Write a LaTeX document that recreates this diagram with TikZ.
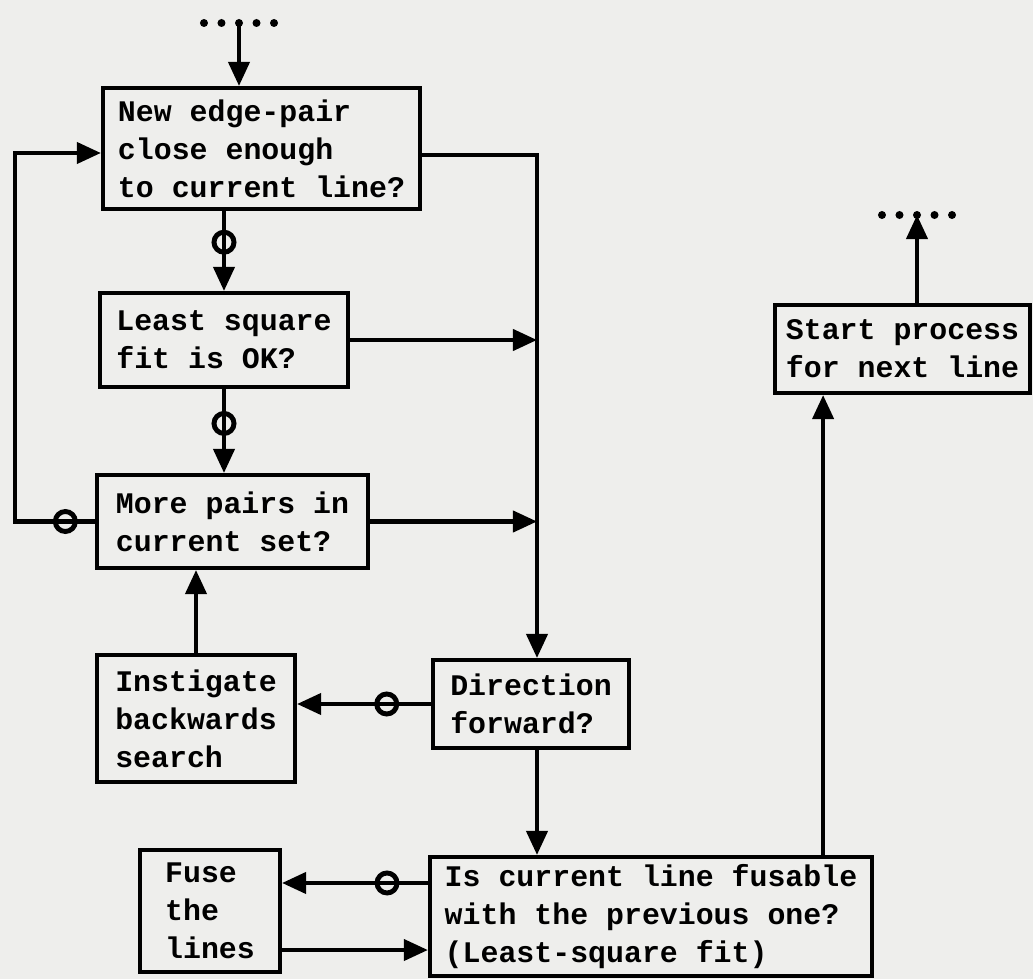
\documentclass[tikz,border=0pt]{standalone}
\usepackage{fontspec}
\setmonofont{Liberation Mono}
\usetikzlibrary{arrows.meta,positioning}
\definecolor{paper}{RGB}{238,238,236}
\begin{document}
\begin{tikzpicture}[
    x=0.01cm, y=-0.01cm,
    line width=1.15pt,
    box/.style={draw, align=left, inner sep=0pt, font=\ttfamily\bfseries\fontsize{8.5}{10.8}\selectfont},
    arrow/.style={-{Triangle[length=2.4mm,width=2.1mm]}},
    ring/.style={draw, circle, inner sep=0pt, minimum size=2mm, line width=1.4pt},
    dot/.style={fill, circle, inner sep=0pt, minimum size=0.8mm}
]
    \fill[paper] (0,0) rectangle (1033,979);
    \node[box, minimum width=3.17cm, minimum height=1.21cm] (edgepair) at (261.5,148.5) {New edge-pair\\close enough\\to current line?};
    \node[box, minimum width=2.48cm, minimum height=0.94cm] (lsqfit) at (224,340) {Least square\\fit is OK?};
    \node[box, minimum width=2.71cm, minimum height=0.93cm] (morepairs) at (232.5,521.5) {More pairs in\\current set?};
    \node[box, minimum width=1.98cm, minimum height=1.27cm] (backward) at (196,718.5) {Instigate\\backwards\\search};
    \node[box, minimum width=1.96cm, minimum height=0.88cm] (direction) at (531,704) {Direction\\forward?};
    \node[box, minimum width=4.42cm, minimum height=1.19cm] (fusable) at (651,916.5) {Is current line fusable\\with the previous one?\\(Least-square fit)};
    \node[box, minimum width=1.40cm, minimum height=1.22cm] (fuse) at (210,911) {Fuse\\the\\lines};
    \node[box, minimum width=2.55cm, minimum height=0.88cm] (nextline) at (902.5,349) {Start process\\for next line};
    \coordinate (entry) at (239,23);
    \coordinate (exit) at (917,215);
    \coordinate (trunk) at (537,155);
    \coordinate (loopturn) at (15,153);
    \foreach \i in {-2,...,2} {
        \node[dot] at ([xshift=\i*1.75mm]entry) {};
        \node[dot] at ([xshift=\i*1.75mm]exit) {};
    }
    \draw[arrow] (entry) -- (entry |- edgepair.north);
    \draw[arrow] (edgepair.south -| lsqfit.north) -- node[ring, pos=0.39] {} (lsqfit.north);
    \draw[arrow] (lsqfit.south) -- node[ring, pos=0.41] {} (lsqfit.south |- morepairs.north);
    \draw[arrow] (morepairs.west) -- node[ring, pos=0.37] {} (morepairs.west -| loopturn) -- (loopturn) -- (loopturn -| edgepair.west);
    \draw[arrow] (edgepair.east |- trunk) -- (trunk) -- (trunk |- direction.north);
    \draw[arrow] (lsqfit.east) -- (lsqfit.east -| trunk);
    \draw[arrow] (morepairs.east) -- (morepairs.east -| trunk);
    \draw[arrow] (backward.north) -- (backward.north |- morepairs.south);
    \draw[arrow] (direction.west) -- node[ring, pos=0.33] {} (direction.west -| backward.east);
    \draw[arrow] (trunk |- direction.south) -- (trunk |- fusable.north);
    \draw[arrow] ([yshift=3.35mm]fusable.west) -- node[ring, pos=0.28] {} ([yshift=3.35mm]fusable.west -| fuse.east);
    \draw[arrow] ([yshift=-3.35mm]fusable.west -| fuse.east) -- ([yshift=-3.35mm]fusable.west);
    \draw[arrow] ([xshift=17.2mm]fusable.north) -- ([xshift=17.2mm]fusable.north |- nextline.south);
    \draw[arrow] (exit |- nextline.north) -- (exit);
\end{tikzpicture}
\end{document}
